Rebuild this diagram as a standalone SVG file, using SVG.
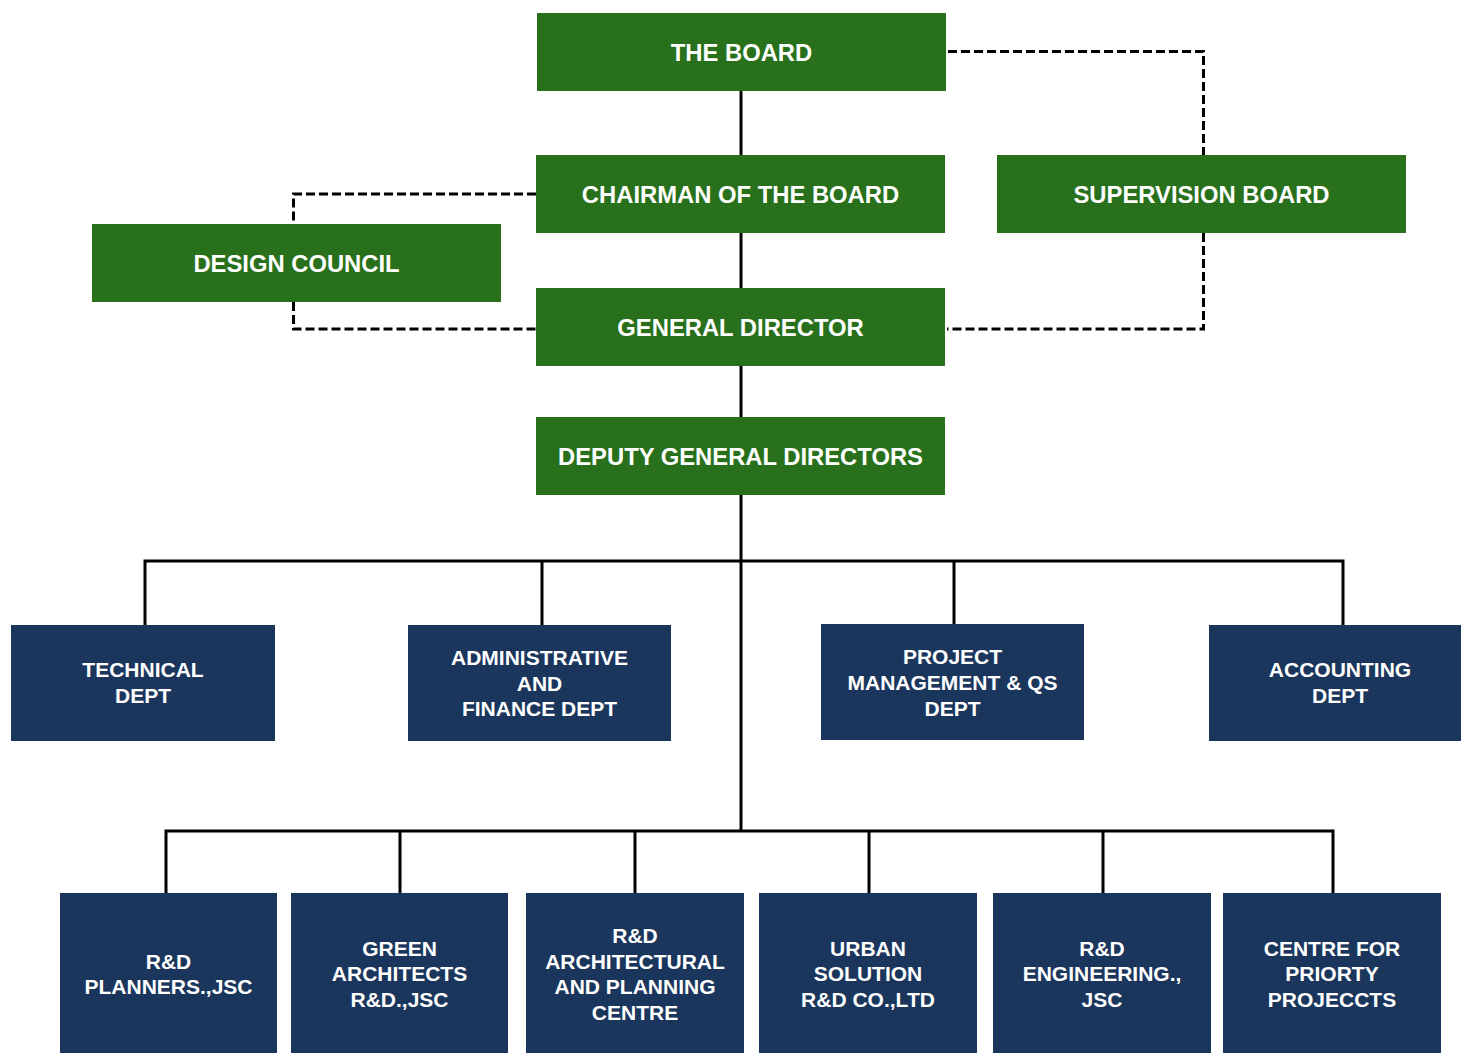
<svg xmlns="http://www.w3.org/2000/svg" width="1461" height="1053" viewBox="0 0 1461 1053">
<style>
.g{fill:#28701b}
.b{fill:#1b365d}
.tg{font-family:"Liberation Sans",Arial,sans-serif;font-weight:bold;font-size:23.8px;fill:#fff;text-anchor:middle}
.tb{font-family:"Liberation Sans",Arial,sans-serif;font-weight:bold;font-size:21px;fill:#fff;text-anchor:middle}
.s{fill:none;stroke:#000;stroke-width:3}
.d{fill:none;stroke:#000;stroke-width:3;stroke-dasharray:9 4}
</style>
<rect width="1461" height="1053" fill="#fff"/>
<g id="connectors">
<path class="s" d="M741 91V830"/>
<path class="s" d="M145 625V561H1343V625M542 561V625M954 561V624"/>
<path class="s" d="M166 893V831H1333V893M400 831V893M635 831V893M869 831V893M1103 831V893"/>
<path class="d" d="M948 51.5H1203.5V155M1203.5 233V329H947"/>
<path class="d" d="M536 194H293.5V224M293.5 302V329H536"/>
</g>
<g id="the-board"><rect class="g" x="537" y="13" width="409" height="78"/><text class="tg" x="741.5" y="61">THE BOARD</text></g>
<g id="chairman"><rect class="g" x="536" y="155" width="409" height="78"/><text class="tg" x="740.5" y="202.5">CHAIRMAN OF THE BOARD</text></g>
<g id="supervision-board"><rect class="g" x="997" y="155" width="409" height="78"/><text class="tg" x="1201.5" y="202.5">SUPERVISION BOARD</text></g>
<g id="design-council"><rect class="g" x="92" y="224" width="409" height="78"/><text class="tg" x="296.5" y="272">DESIGN COUNCIL</text></g>
<g id="general-director"><rect class="g" x="536" y="288" width="409" height="78"/><text class="tg" x="740.5" y="336">GENERAL DIRECTOR</text></g>
<g id="deputy-general-directors"><rect class="g" x="536" y="417" width="409" height="78"/><text class="tg" x="740.5" y="465">DEPUTY GENERAL DIRECTORS</text></g>
<g id="technical-dept"><rect class="b" x="11" y="625" width="264" height="116"/><text class="tb" x="143" y="677">TECHNICAL</text><text class="tb" x="143" y="703">DEPT</text></g>
<g id="admin-finance-dept"><rect class="b" x="408" y="625" width="263" height="116"/><text class="tb" x="539.5" y="664.5">ADMINISTRATIVE</text><text class="tb" x="539.5" y="690.5">AND</text><text class="tb" x="539.5" y="716">FINANCE DEPT</text></g>
<g id="project-management-dept"><rect class="b" x="821" y="624" width="263" height="116"/><text class="tb" x="952.5" y="664">PROJECT</text><text class="tb" x="952.5" y="690">MANAGEMENT &amp; QS</text><text class="tb" x="952.5" y="715.5">DEPT</text></g>
<g id="accounting-dept"><rect class="b" x="1209" y="625" width="252" height="116"/><text class="tb" x="1340" y="677">ACCOUNTING</text><text class="tb" x="1340" y="703">DEPT</text></g>
<g id="rd-planners"><rect class="b" x="60" y="893" width="217" height="160"/><text class="tb" x="168.5" y="968.5">R&amp;D</text><text class="tb" x="168.5" y="994">PLANNERS.,JSC</text></g>
<g id="green-architects"><rect class="b" x="291" y="893" width="217" height="160"/><text class="tb" x="399.5" y="955.5">GREEN</text><text class="tb" x="399.5" y="981">ARCHITECTS</text><text class="tb" x="399.5" y="1006.5">R&amp;D.,JSC</text></g>
<g id="rd-architectural-planning"><rect class="b" x="526" y="893" width="218" height="160"/><text class="tb" x="635" y="943">R&amp;D</text><text class="tb" x="635" y="968.5">ARCHITECTURAL</text><text class="tb" x="635" y="994">AND PLANNING</text><text class="tb" x="635" y="1019.5">CENTRE</text></g>
<g id="urban-solution"><rect class="b" x="759" y="893" width="218" height="160"/><text class="tb" x="868" y="955.5">URBAN</text><text class="tb" x="868" y="981">SOLUTION</text><text class="tb" x="868" y="1006.5">R&amp;D CO.,LTD</text></g>
<g id="rd-engineering"><rect class="b" x="993" y="893" width="218" height="160"/><text class="tb" x="1102" y="955.5">R&amp;D</text><text class="tb" x="1102" y="981">ENGINEERING.,</text><text class="tb" x="1102" y="1006.5">JSC</text></g>
<g id="centre-priority-projects"><rect class="b" x="1223" y="893" width="218" height="160"/><text class="tb" x="1332" y="955.5">CENTRE FOR</text><text class="tb" x="1332" y="981">PRIORTY</text><text class="tb" x="1332" y="1006.5">PROJECCTS</text></g>
</svg>
